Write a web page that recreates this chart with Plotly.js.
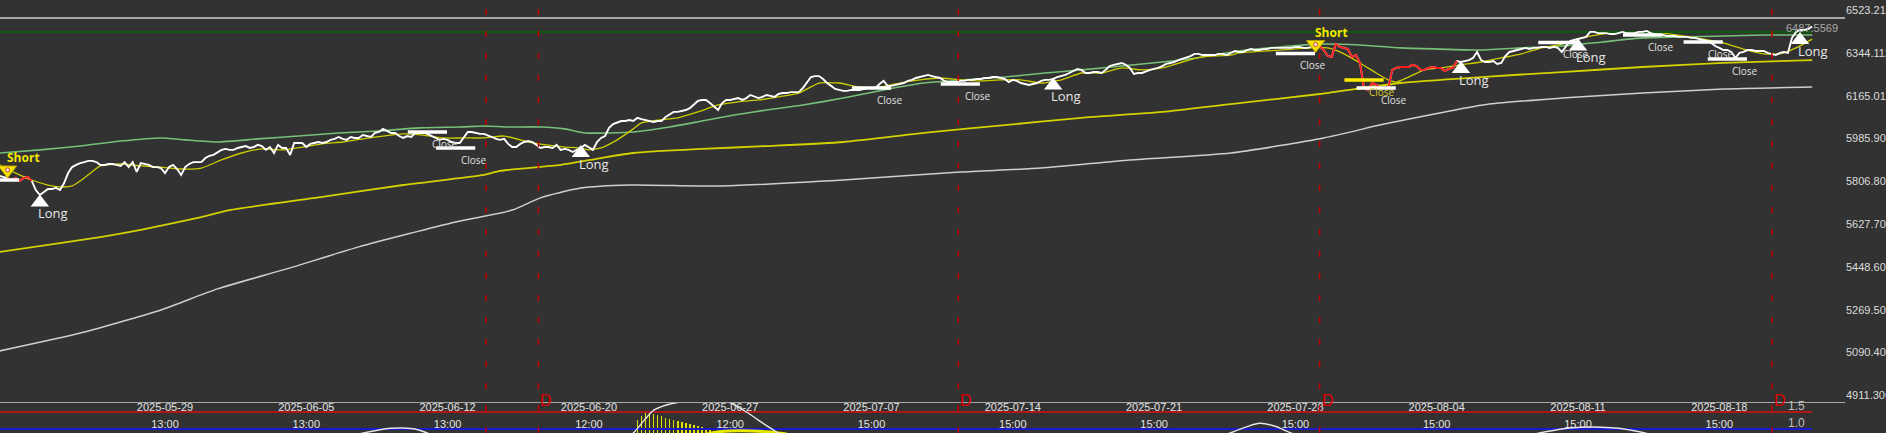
<!DOCTYPE html>
<html><head><meta charset="utf-8">
<script src="https://cdn.plot.ly/plotly-3.0.1.min.js"></script>
<style>html,body{margin:0;padding:0;background:#323232;overflow:hidden}#chart{width:1886px;height:433px}</style>
</head><body><div id="chart"></div>
<script>
// ---------- DATA ----------
// hourly close, one value per bar (bar index = position in array)
const price = [5862,5858,5853,5845,5853,5841,5853,5858,5841,5803,
5782,5795,5807,5807,5812,5803,5832,5874,5899,5908,
5916,5920,5925,5925,5920,5908,5908,5912,5912,5908,
5904,5920,5899,5920,5879,5916,5912,5908,5899,5899,
5895,5874,5899,5908,5891,5866,5899,5912,5920,5920,
5920,5937,5946,5950,5962,5971,5975,5971,5971,5979,
5983,5987,5979,5983,5992,5987,5971,5983,5958,5992,
5979,5979,5950,6000,6000,6000,5983,5996,6000,6004,
6000,6004,6013,6017,6025,6017,6013,6025,6021,6021,
6033,6029,6025,6042,6046,6059,6050,6042,6042,6029,
6021,6029,6025,6042,6042,6042,6038,6029,6021,6013,
6017,6013,6004,6000,6000,6021,6046,6046,6042,6038,
6038,6033,6025,6017,6013,6017,5996,5983,5983,5996,
6004,6008,6004,5992,5979,5983,5983,5979,5992,5971,
5975,5971,5962,5971,5979,5992,5983,5971,6004,6021,
6029,6063,6079,6084,6092,6092,6096,6092,6105,6100,
6096,6092,6088,6092,6092,6109,6121,6130,6130,6134,
6138,6146,6159,6176,6180,6180,6167,6151,6138,6167,
6180,6180,6184,6188,6180,6188,6201,6193,6188,6193,
6201,6197,6193,6205,6209,6209,6213,6213,6213,6230,
6255,6276,6280,6280,6268,6251,6239,6226,6222,6218,
6218,6222,6222,6222,6226,6230,6230,6230,6247,6260,
6239,6239,6243,6247,6251,6260,6264,6272,6276,6280,
6285,6280,6276,6272,6260,6255,6255,6255,6260,6260,
6264,6264,6268,6268,6272,6272,6276,6276,6272,6268,
6255,6264,6260,6251,6247,6243,6247,6251,6260,6264,
6264,6268,6276,6280,6285,6293,6301,6310,6306,6293,
6293,6297,6297,6293,6306,6322,6327,6331,6335,6327,
6314,6289,6293,6293,6301,6306,6310,6314,6322,6331,
6335,6339,6347,6352,6356,6364,6373,6373,6368,6368,
6368,6368,6373,6373,6368,6377,6385,6381,6381,6389,
6393,6389,6389,6393,6393,6398,6398,6398,6398,6398,
6398,6402,6402,6398,6398,6402,6402,6406,6389,6364,
6360,6414,6402,6398,6393,6360,6368,6335,6230,6222,
6251,6243,6230,6230,6230,6306,6314,6318,6318,6318,
6327,6322,6306,6306,6314,6318,6314,6314,6301,6310,
6314,6343,6339,6343,6347,6356,6381,6347,6339,6339,
6343,6331,6335,6364,6381,6385,6389,6393,6398,6393,
6398,6398,6402,6402,6398,6402,6398,6381,6402,6427,
6431,6435,6440,6444,6465,6465,6460,6460,6460,6456,
6456,6460,6465,6460,6460,6460,6465,6465,6469,6460,
6456,6452,6452,6448,6448,6448,6444,6444,6444,6440,
6440,6435,6431,6427,6419,6406,6398,6389,6389,6381,
6356,6377,6381,6389,6389,6385,6385,6385,6377,6373,
6368,6377,6381,6377,6440,6465,6473,6473,6477,6487.5569];

// short-position spans [first bar, last bar]
const shortSpans = [[2, 8], [326, 361]];

// moving averages (bar index, value)
const fastBars = [0,4,8,12,15,18,21,25,30,35,40,45,50,55,60,65,70,75,80,85,90,95,100,105,110,115,120,125,132,140,144,146,149,153,157,159,163,168,173,178,183,188,193,198,203,208,213,218,223,228,233,238,243,248,253,258,263,268,273,278,283,288,293,298,305,307,317,325,329,332,337,341,344,346,349,353,357,362,367,372,377,382,387,392,397,402,407,412,417,422,427,432,437,441,445,449];
const fastVals = [5908,5874,5845,5824,5816,5820,5853,5904,5912,5904,5899,5891,5895,5929,5958,5975,5971,5983,5996,6004,6017,6029,6038,6033,6021,6021,6021,6029,6000,5983,5979,5971,5979,6013,6059,6084,6096,6105,6130,6159,6172,6180,6193,6209,6251,6251,6234,6234,6251,6264,6272,6264,6260,6264,6264,6251,6264,6293,6293,6314,6306,6314,6339,6360,6368,6377,6389,6398,6398,6381,6335,6293,6264,6255,6276,6306,6314,6327,6339,6356,6373,6398,6414,6440,6456,6465,6465,6460,6448,6435,6419,6393,6373,6373,6398,6435];
const greenBars = [0,10,20,30,40,46,54,64,74,84,94,104,114,120,126,134,140,145,151,157,166,174,182,190,199,209,219,229,239,249,259,268,278,288,298,307,317,327,337,347,357,367,377,387,397,407,417,427,437,449];
const greenVals = [5958,5971,5987,6008,6021,6013,6004,6017,6029,6042,6050,6063,6067,6071,6067,6067,6059,6042,6042,6046,6067,6092,6117,6138,6159,6188,6222,6251,6264,6276,6293,6306,6322,6339,6360,6385,6402,6414,6410,6398,6393,6389,6398,6406,6423,6440,6444,6448,6452,6452];
const slowBars = [0,15,25,35,50,57,80,100,120,124,139,149,157,174,190,209,229,249,268,288,305,327,347,367,387,407,427,449];
const slowVals = [5544,5581,5606,5636,5690,5719,5774,5824,5866,5883,5908,5937,5958,5975,5987,6004,6042,6075,6105,6130,6163,6205,6251,6276,6297,6318,6335,6347];
const grayBars = [0,20,40,54,72,89,113,127,134,144,156,179,209,238,258,280,305,328,343,358,369,387,407,427,449];
const grayVals = [5129,5204,5301,5389,5477,5565,5669,5719,5770,5811,5824,5820,5845,5878,5895,5929,5958,6021,6079,6130,6163,6188,6209,6226,6234];

const resistanceLevel = 6464.6;

// signals
const shortBars = [2, 326];      const shortVals = [5887, 6412];
const longBars  = [10, 144, 261, 362, 391, 446];
const longVals  = [5751, 5958, 6241, 6310, 6404, 6431];
const closeBars = [0, 106, 113, 216, 238, 321, 341, 386, 407, 422, 428];
const closeVals = [5845, 6046, 5979, 6230, 6247, 6375, 6230, 6421, 6452, 6423, 6352];
const coverBars = [338];         const coverVals = [6264];

// event day markers
const dayMarkBars = [120.5, 133.5, 237.5, 327, 439];
const dLabelBars  = [133.5, 237.5, 327, 439];

// axis ticks
const tickBars  = [41, 76, 111, 146, 181, 216, 251, 286, 321, 356, 391, 426];
const tickDates = ["2025-05-29","2025-06-05","2025-06-12","2025-06-20","2025-06-27","2025-07-07","2025-07-14","2025-07-21","2025-07-28","2025-08-04","2025-08-11","2025-08-18"];
const tickTimes = ["13:00","13:00","13:00","12:00","12:00","15:00","15:00","15:00","15:00","15:00","15:00","15:00"];
const yTickText = ["4911.306","5090.401","5269.503","5448.605","5627.706","5806.808","5985.909","6165.011","6344.112","6523.214"];

// lower oscillator panel
const oscBars = [82,89,93,97,100,103,106,110,130,155,157,160,162,165,168,174,179,181,185,190,193,196,223,297,304,307,312,316,320,325,359,379,383,389,395,401,407,411,449];
const oscVals = [0.6,0.85,0.95,1.02,1.03,1.0,0.88,0.7,0.5,0.7,0.88,1.3,1.55,1.7,1.78,1.9,1.85,1.77,1.5,1.1,0.88,0.7,0.5,0.7,0.85,0.98,1.17,1.08,0.88,0.7,0.6,0.82,0.92,1.03,1.06,1.02,0.9,0.8,0.6];
const histBars = [158,159,160,161,162,163,164,165,166,167,168,169,170,171,172,173,174,175,176,177];
const histVals = [1.26,1.38,1.47,1.47,1.44,1.41,1.38,1.32,1.29,1.26,1.24,1.21,1.18,1.15,1.12,1.09,1.06,1.0,0.97,0.94];
const sigBars = [174,177,183,190,195];
const sigVals = [0.8,0.9,0.95,0.92,0.85];
const oscLevels = [1.5, 1.0];
const oscLevelText = ["1.5", "1.0"];

// ---------- CHART ----------
const bars = price.map((_, i) => i);
const lastBar = bars[bars.length - 1];
const pxPerBar = 141.3 / 35;
const plotW = 1845;
const xr = [0.13, 0.13 + plotW / pxPerBar];
const panelFrac = 30 / 433;

const traces = [];
const line = (x, y, color, width, extra) => Object.assign({type:'scatter', mode:'lines', x, y, line:{color, width}, hoverinfo:'skip'}, extra || {});

traces.push(line(grayBars, grayVals, '#cfcfcf', 1.5, {line:{color:'#cfcfcf', width:1.5, shape:'spline', smoothing:0.6}}));
traces.push(line(slowBars, slowVals, '#d2d200', 1.8, {line:{color:'#d2d200', width:1.8, shape:'spline', smoothing:0.6}}));
traces.push(line(greenBars, greenVals, '#78c078', 1.6, {line:{color:'#78c078', width:1.6, shape:'spline', smoothing:0.6}}));
traces.push(line(fastBars, fastVals, '#cccc00', 1.3, {line:{color:'#cccc00', width:1.3, shape:'spline', smoothing:0.5}}));
traces.push(line([0, lastBar], [resistanceLevel, resistanceLevel], '#0c5a0c', 2.2));
traces.push(line(bars, price, '#ffffff', 1.9));
shortSpans.forEach(([a, b]) => traces.push(line(bars.slice(a, b + 1), price.slice(a, b + 1), '#ff1a1a', 1.9)));

// lower panel
oscLevels.forEach((lv, i) => traces.push(line([0, lastBar], [lv, lv], i === 0 ? '#b01818' : '#1a1acc', 2, {xaxis:'x', yaxis:'y2'})));
traces.push({type:'bar', x:histBars, y:histVals, base:0, width:0.4, marker:{color:'#e0e000', line:{width:0}}, xaxis:'x', yaxis:'y2', hoverinfo:'skip'});
traces.push(line(sigBars, sigVals, '#e8e800', 3, {xaxis:'x', yaxis:'y2', line:{color:'#e8e800', width:3, shape:'spline'}}));
traces.push(line(oscBars, oscVals, '#e6e6e6', 1.4, {xaxis:'x', yaxis:'y2', line:{color:'#e6e6e6', width:1.4, shape:'spline', smoothing:0.7}}));

// signal markers
traces.push({type:'scatter', mode:'markers', x:coverBars, y:coverVals, marker:{symbol:'line-ew', size:28, line:{width:3.5, color:'#ffee00'}}, hoverinfo:'skip'});
traces.push({type:'scatter', mode:'markers', x:closeBars, y:closeVals, marker:{symbol:'line-ew', size:28, line:{width:3.5, color:'#ffffff'}}, hoverinfo:'skip'});
traces.push({type:'scatter', mode:'markers', x:longBars, y:longVals, marker:{symbol:'triangle-up', size:16, color:'#ffffff', line:{width:0}}, hoverinfo:'skip'});
traces.push({type:'scatter', mode:'markers', x:shortBars, y:shortVals, marker:{symbol:'triangle-down', size:16, color:'#f2e600', line:{width:1, color:'#b89a00'}}, hoverinfo:'skip'});
traces.push({type:'scatter', mode:'markers', x:shortBars, y:shortVals, marker:{symbol:'circle', size:4, color:'#ffffff', line:{width:1, color:'#d03030'}}, hoverinfo:'skip'});
// time-of-day axis holder
traces.push({type:'scatter', mode:'lines', x:[tickBars[0]], y:[null], xaxis:'x3', yaxis:'y', hoverinfo:'skip'});

const ann = [];
const mk = 'Open Sans';
shortBars.forEach((b, i) => ann.push({x:b, y:shortVals[i], xref:'x', yref:'y', text:'Short', showarrow:false, xanchor:'left', yanchor:'bottom', xshift:-3, yshift:2, font:{family:mk, size:12, color:'#f2e600', weight:'bold'}}));
longBars.forEach((b, i) => ann.push({x:b, y:longVals[i], xref:'x', yref:'y', text:'Long', showarrow:false, xanchor:'left', yanchor:'top', xshift:-4, yshift:0, font:{family:mk, size:13, color:'#e8e8e8'}}));
closeBars.forEach((b, i) => ann.push({x:b, y:closeVals[i], xref:'x', yref:'y', text:'Close', showarrow:false, xanchor:'left', yanchor:'top', xshift:3, yshift:-3, font:{family:mk, size:10, color:'#e0e0e0'}}));
coverBars.forEach((b, i) => ann.push({x:b, y:coverVals[i], xref:'x', yref:'y', text:'Close', showarrow:false, xanchor:'left', yanchor:'top', xshift:3, yshift:-3, font:{family:mk, size:10, color:'#d8cc30'}}));
dLabelBars.forEach(b => ann.push({x:b, y:1 - 400/433, xref:'x', yref:'paper', text:'D', showarrow:false, xanchor:'left', yanchor:'middle', xshift:0, font:{family:'Liberation Sans', size:16, color:'#e00000'}}));
oscLevels.forEach((lv, i) => ann.push({x:lastBar - 4, y:lv, xref:'x', yref:'y2', text:oscLevelText[i], showarrow:false, xanchor:'center', yanchor:'bottom', yshift:-3, font:{family:'Liberation Sans', size:12, color:'#c0c0c0'}}));
ann.push({x:lastBar, y:price[lastBar], xref:'x', yref:'y', text:price[lastBar].toFixed(4), showarrow:false, xanchor:'center', yanchor:'middle', yshift:-1, font:{family:'Liberation Sans', size:11, color:'#a8a8a8'}});

const shapes = [];
dayMarkBars.forEach(b => shapes.push({type:'line', xref:'x', yref:'paper', x0:b, x1:b, y0:0, y1:1, layer:'above', line:{color:'#c40000', width:1.5, dash:'6px,16px'}}));
[yTickText[0], yTickText[yTickText.length - 1]].forEach(t => shapes.push({type:'line', xref:'paper', yref:'y', x0:0, x1:1, y0:Number(t), y1:Number(t), layer:'below', line:{color:'#cfcfcf', width:1.5}}));

const axFont = {family:'Liberation Sans', size:11, color:'#e4e4e4'};
const layout = {
  width:1886, height:433,
  paper_bgcolor:'#323232', plot_bgcolor:'#323232',
  margin:{l:0, r:1886 - plotW, t:0, b:0},
  showlegend:false, hovermode:false,
  bargap:0,
  xaxis:{range:xr, anchor:'y', tickmode:'array', tickvals:tickBars, ticktext:tickDates, ticks:'', showgrid:false, zeroline:false, showline:false, tickfont:axFont, ticklabelstandoff:-4},
  xaxis3:{range:xr, overlaying:'x', anchor:'free', position:1 - 416/433, side:'bottom', tickmode:'array', tickvals:tickBars, ticktext:tickTimes, ticks:'', showgrid:false, zeroline:false, showline:false, tickfont:axFont},
  yaxis:{domain:[panelFrac, 1], range:[4911.30, 6598.58], side:'right', tickmode:'array', tickvals:yTickText.map(Number), ticktext:yTickText, ticks:'', ticklabelposition:'outside top', showgrid:false, zeroline:false, showline:false, tickfont:{family:'Liberation Sans', size:11, color:'#dcdcdc'}},
  yaxis2:{domain:[0, panelFrac], range:[0.882, 1.765], anchor:'x', showticklabels:false, showgrid:false, zeroline:false, showline:false},
  annotations:ann, shapes
};
Plotly.newPlot('chart', traces, layout, {staticPlot:true, displayModeBar:false});
</script></body></html>
